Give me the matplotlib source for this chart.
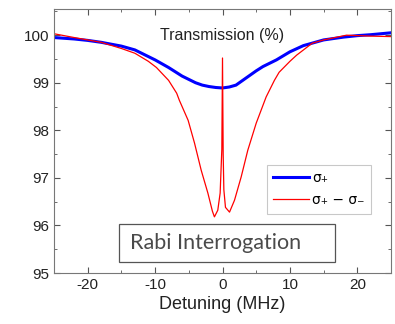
import matplotlib
matplotlib.use("Agg")
import matplotlib.pyplot as plt
from matplotlib.ticker import MultipleLocator
from matplotlib.patches import Rectangle

plt.rcParams["font.family"] = ["Liberation Sans", "DejaVu Sans"]
plt.rcParams["axes.unicode_minus"] = False

# sigma+ transmission (blue)
blue_x = [-25, -22, -20, -18, -15, -13, -11, -10, -8, -6, -5, -4, -3, -2, -1, 0,
          1, 2, 3, 4, 5, 6, 8, 10, 12, 15, 18, 20, 22, 25]
blue_y = [99.95, 99.92, 99.89, 99.85, 99.77, 99.69, 99.55, 99.48, 99.32, 99.14, 99.07,
          99.00, 98.95, 98.92, 98.90, 98.89, 98.91, 98.95, 99.05, 99.15, 99.25, 99.34,
          99.48, 99.65, 99.78, 99.90, 99.96, 99.99, 100.01, 100.05]

# sigma+ - sigma- transmission (red)
red_x = [-25, -22, -18, -15, -13, -11, -9.8, -8, -6.8, -6.4, -5.1, -4.15, -3.16, -2.17,
         -1.5, -1.2, -0.7, -0.35, -0.1, 0, 0.1, 0.2, 0.44, 1.04, 1.78, 2.77, 3.75, 5.0,
         6.47, 7.7, 8.4, 10, 11, 13.3, 15, 18.4, 22, 25]
red_y = [100.03, 99.95, 99.85, 99.72, 99.62, 99.45, 99.32, 99.05, 98.78, 98.63, 98.21,
         97.73, 97.16, 96.68, 96.30, 96.18, 96.32, 96.68, 97.60, 99.52, 97.50, 96.75,
         96.38, 96.28, 96.53, 97.02, 97.58, 98.15, 98.70, 99.05, 99.22, 99.45, 99.58,
         99.83, 99.90, 100.00, 99.98, 99.97]

fig = plt.figure(figsize=(3.95, 3.24), dpi=100)
ax = fig.add_axes([0.1367, 0.1574, 0.8532, 0.8148])

ax.plot(blue_x, blue_y, color="#0000ff", lw=2.2, label="σ₊")
ax.plot(red_x, red_y, color="#ff0000", lw=0.9, label="σ₊ − σ₋")

ax.set_xlim(-25, 25)
ax.set_ylim(95, 100.55)
ax.xaxis.set_major_locator(MultipleLocator(10))
ax.xaxis.set_minor_locator(MultipleLocator(5))
ax.yaxis.set_major_locator(MultipleLocator(1))
ax.yaxis.set_minor_locator(MultipleLocator(0.5))
ax.tick_params(which="both", direction="in", top=True, right=True, colors="#555555",
               labelcolor="#222222", labelsize=11)
ax.tick_params(which="major", length=4)
ax.tick_params(which="minor", length=2.5)
for s in ax.spines.values():
    s.set_color("#777777")

ax.set_xlabel("Detuning (MHz)", fontsize=13, color="#222222", labelpad=3)
ax.text(0.5, 0.9, "Transmission (%)", transform=ax.transAxes, ha="center",
        va="center", fontsize=11.5, color="#222222")

leg = ax.legend(loc="lower right", bbox_to_anchor=(0.94, 0.225),
                prop={"family": ["DejaVu Sans"], "size": 10},
                frameon=True, fancybox=False, handlelength=2.6, borderpad=0.45,
                labelspacing=0.6, handletextpad=0.2, borderaxespad=0)
leg.get_frame().set_edgecolor("#bbbbbb")
leg.get_frame().set_linewidth(0.8)

# annotation box
ax.add_patch(Rectangle((0.193, 0.042), 0.641, 0.144, transform=ax.transAxes,
                       fc="white", ec="#555555", lw=0.9, zorder=5))
ax.text(0.226, 0.114, "Rabi Interrogation", transform=ax.transAxes, ha="left",
        va="center", fontsize=15.5, color="#4a4a4a", family=["Lato", "DejaVu Sans"],
        zorder=6)

fig.savefig("out.png", dpi=100)
